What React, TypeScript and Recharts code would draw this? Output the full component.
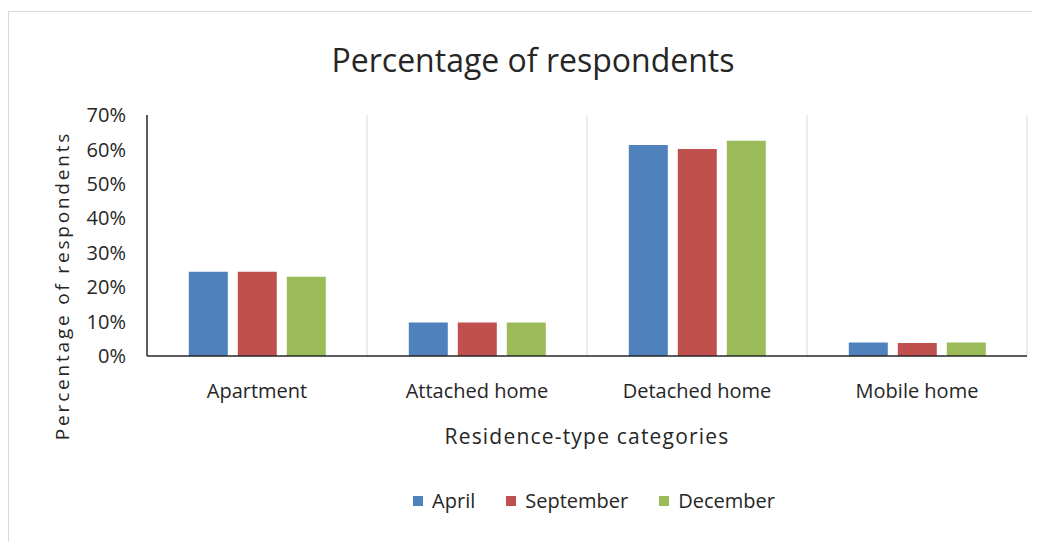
import React from "react";
import { BarChart, Bar, XAxis, YAxis, CartesianGrid } from "recharts";

const categories = ["Apartment", "Attached home", "Detached home", "Mobile home"];
const seriesNames = ["April", "September", "December"];
const seriesColors = ["#4F81BD", "#C0504D", "#9BBB59"];
const aprilValues = [24.5, 9.7, 61.3, 3.9];
const septemberValues = [24.5, 9.7, 60.1, 3.8];
const decemberValues = [23.0, 9.7, 62.5, 3.9];
const yTicks = [0, 10, 20, 30, 40, 50, 60, 70];

const title = "Percentage of respondents";
const yAxisTitle = "Percentage of respondents";
const xAxisTitle = "Residence-type categories";

const seriesValues = [aprilValues, septemberValues, decemberValues];
const data = categories.map((c, i) => {
  const row: Record<string, string | number> = { category: c };
  seriesNames.forEach((s, j) => {
    row[s] = seriesValues[j][i];
  });
  return row;
});

const FONT = "'Open Sans', sans-serif";
const TEXT = "#262626";

const W = 1032;
const H = 534;

export default function App() {
  return (
    <div style={{ position: "relative", width: W, height: H, overflow: "hidden", fontFamily: FONT, background: "#fff" }}>
      <div
        style={{
          position: "absolute",
          left: 0,
          top: 3,
          width: W + 20,
          height: H + 20,
          borderTop: "1px solid #d9d9d9",
          borderLeft: "1px solid #d9d9d9",
          boxSizing: "border-box",
        }}
      />
      <div
        style={{
          position: "absolute",
          left: 0,
          width: 1050,
          top: 36,
          textAlign: "center",
          fontSize: 32,
          lineHeight: 1,
          color: TEXT,
          whiteSpace: "nowrap",
        }}
      >
        {title}
      </div>
      <div style={{ position: "absolute", left: 0, top: 0 }}>
        <BarChart
          width={W}
          height={H}
          data={data}
          margin={{ top: 107, right: 13, bottom: 0, left: 0 }}
          barCategoryGap="19%"
          barGap={10}
        >
          <CartesianGrid
            horizontal={false}
            stroke="#d9d9d9"
            verticalCoordinatesGenerator={({ offset }: any) =>
              categories.map((_, i) => offset.left + ((i + 1) * offset.width) / categories.length)
            }
          />
          <XAxis
            dataKey="category"
            height={186}
            tickLine={false}
            tickSize={0}
            tickMargin={28}
            axisLine={{ stroke: "#262626", strokeWidth: 1.5 }}
            tick={{ fontSize: 20, fill: TEXT, fontFamily: FONT }}
            interval={0}
            label={({ viewBox }: any) => (
              <text
                x={viewBox.x + viewBox.width / 2}
                y={viewBox.y + 80}
                textAnchor="middle"
                dominantBaseline="central"
                fontSize={21}
                fill={TEXT}
                fontFamily={FONT}
                letterSpacing={1.2}
              >
                {xAxisTitle}
              </text>
            )}
          />
          <YAxis
            width={139}
            domain={[0, 70]}
            ticks={yTicks}
            tickFormatter={(v: number) => `${v}%`}
            tickLine={false}
            tickSize={0}
            tickMargin={21}
            axisLine={{ stroke: "#262626", strokeWidth: 1.5 }}
            tick={{ fontSize: 20, fill: TEXT, fontFamily: FONT }}
            label={({ viewBox }: any) => {
              const cx = viewBox.x + 54;
              const cy = viewBox.y + viewBox.height / 2 + 50;
              return (
                <text
                  x={cx}
                  y={cy}
                  transform={`rotate(-90 ${cx} ${cy})`}
                  textAnchor="middle"
                  dominantBaseline="central"
                  fontSize={19}
                  fill={TEXT}
                  fontFamily={FONT}
                  letterSpacing={2.8}
                >
                  {yAxisTitle}
                </text>
              );
            }}
          />
          {seriesNames.map((s, j) => (
            <Bar key={s} dataKey={s} fill={seriesColors[j]} isAnimationActive={false} />
          ))}
        </BarChart>
      </div>
      <div
        style={{
          position: "absolute",
          left: 0,
          width: 1172,
          top: 479,
          display: "flex",
          justifyContent: "center",
          alignItems: "center",
          fontSize: 20,
          color: TEXT,
          gap: 31,
        }}
      >
        {seriesNames.map((s, j) => (
          <div key={s} style={{ display: "flex", alignItems: "center" }}>
            <span style={{ display: "inline-block", width: 10, height: 10, background: seriesColors[j], marginRight: 9 }} />
            <span>{s}</span>
          </div>
        ))}
      </div>
    </div>
  );
}
